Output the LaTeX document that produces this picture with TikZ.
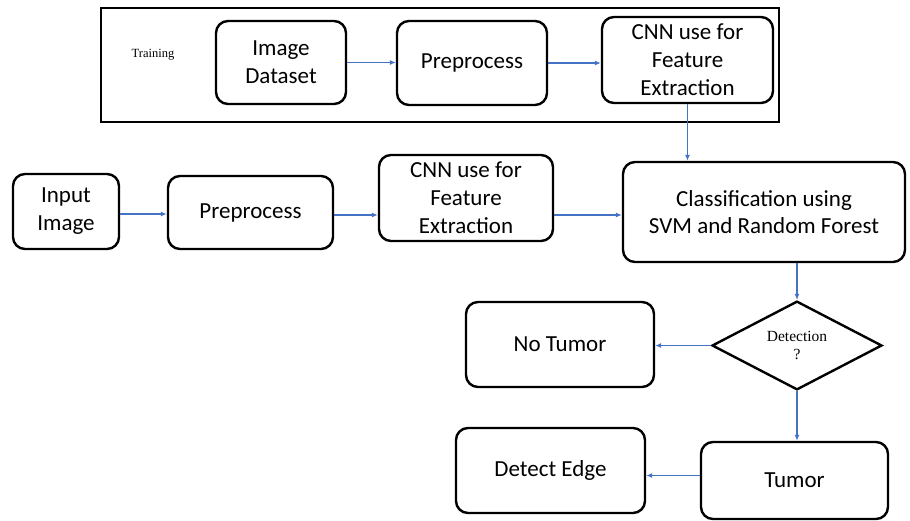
\documentclass[tikz,border=0pt]{standalone}
\usepackage{fontspec}
\setmainfont{Carlito}
\newfontfamily\serifft{Liberation Serif}
\usetikzlibrary{shapes.geometric,arrows.meta}
\definecolor{arrowblue}{RGB}{68,114,196}
\tikzset{
  box/.style={draw=black, line width=2.4pt, rounded corners=12pt, align=center,
    inner sep=0pt, font=\fontsize{23}{28}\selectfont},
  dec/.style={draw=black, line width=2.4pt, diamond, align=center, inner sep=0pt,
    font=\serifft\fontsize{15.5}{18}\selectfont},
  conn/.style={draw=arrowblue, line width=1.2pt, -{Latex[length=6pt,width=5pt]}},
  frame/.style={draw=black, line width=2.2pt}
}
\begin{document}
\begin{tikzpicture}[x=1pt,y=-1pt]
\useasboundingbox (0,0) rectangle (910,521);
% training frame
\draw[frame] (101,8) rectangle (779,122);
\node[font=\serifft\fontsize{12.5}{15}\selectfont] (train) at (153,55) {Training};
% top row
\node[box, minimum width=130pt, minimum height=83pt] (ds) at (281,62.5) {Image\\Dataset};
\node[box, minimum width=150pt, minimum height=84pt] (pp1) at (472,63) {Preprocess};
\node[box, minimum width=171pt, minimum height=86pt] (cnn1) at (687.5,60) {CNN use for\\Feature\\Extraction};
% middle row
\node[box, minimum width=106pt, minimum height=75pt] (in) at (66,211.5) {Input\\Image};
\node[box, minimum width=165pt, minimum height=73pt] (pp2) at (250.5,212.5) {Preprocess};
\node[box, minimum width=174pt, minimum height=86pt] (cnn2) at (466,198) {CNN use for\\Feature\\Extraction};
\node[box, minimum width=282pt, minimum height=100pt, font=\fontsize{23}{27}\selectfont] (cls) at (764,212) {Classification using\\SVM and Random Forest};
% decision
\node[dec, minimum width=170pt, minimum height=83pt] (dia) at (797,345.5) {Detection\\?};
\node[box, minimum width=188pt, minimum height=85pt] (nt) at (560,344.5) {No Tumor};
\node[box, minimum width=187pt, minimum height=77pt] (tu) at (794.5,480.5) {Tumor};
\node[box, minimum width=189pt, minimum height=85pt] (de) at (550.5,470.5) {Detect Edge};
% connectors
\draw[conn] (ds.east) -- (ds.east -| pp1.west);
\draw[conn] (pp1.east) -- (pp1.east -| cnn1.west);
\draw[conn] (cnn1.south) -- (cnn1.south |- cls.north);
\path ([yshift=-2.5pt]in.east) coordinate (ie);
\draw[conn] (ie) -- (ie -| pp2.west);
\path ([yshift=-2.5pt]pp2.east) coordinate (pe);
\draw[conn] (pe) -- (pe -| cnn2.west);
\path ([yshift=-3pt]cls.west) coordinate (cw);
\draw[conn] (cw -| cnn2.east) -- (cw);
\draw[conn] (dia.north |- cls.south) -- (dia.north);
\draw[conn] (dia.west) -- (dia.west -| nt.east);
\draw[conn] (dia.south) -- (dia.south |- tu.north);
\path ([yshift=5pt]tu.west) coordinate (tw);
\draw[conn] (tw) -- (tw -| de.east);
\end{tikzpicture}
\end{document}
